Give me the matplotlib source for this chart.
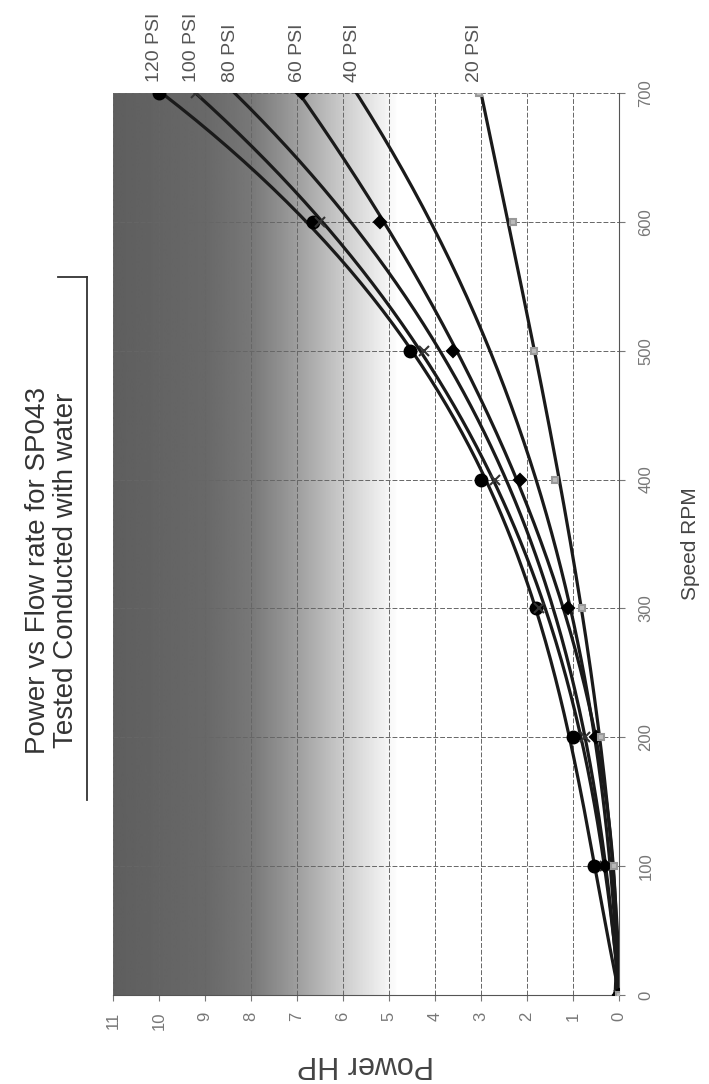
import numpy as np
import matplotlib
matplotlib.use("Agg")
import matplotlib.pyplot as plt
from matplotlib.lines import Line2D

plt.rcParams['font.family'] = ['Liberation Sans', 'DejaVu Sans']

# data: speed (RPM) vs power (HP) per pressure
rpm = [0, 100, 200, 300, 400, 500, 600, 700]
psi_120 = [0, 0.55, 1.0, 1.8, 3.0, 4.55, 6.65, 10.0]
psi_100 = [0, 0.3, 0.75, 1.75, 2.7, 4.25, 6.5, 9.2]
psi_80 = [0, 0.3, 0.7, 1.5, 2.4, 3.9, 5.85, 8.35]
psi_60 = [0, 0.3, 0.5, 1.1, 2.15, 3.6, 5.2, 6.9]
psi_40 = [0, 0.2, 0.55, 1.05, 1.75, 2.85, 4.1, 5.7]
psi_20 = [0, 0.1, 0.4, 0.8, 1.4, 1.85, 2.3, 3.05]

series = [
    ("120 PSI", psi_120, 'o', 'black', 'black', 8.5),
    ("100 PSI", psi_100, 'x', '#333333', '#333333', 7),
    ("80 PSI", psi_80, None, None, None, 0),
    ("60 PSI", psi_60, 'D', 'black', 'black', 6),
    ("40 PSI", psi_40, None, None, None, 0),
    ("20 PSI", psi_20, 's', '#bbbbbb', '#999999', 5),
]

power_ticks = list(range(0, 12))
rpm_ticks = [0, 100, 200, 300, 400, 500, 600, 700]

fig = plt.figure(figsize=(7.09, 10.84), dpi=100)
ax = fig.add_axes([113/709, 1 - 995/1084, 506/709, 902/1084])
ax.set_xlim(11, 0)
ax.set_ylim(0, 700)

# gray gradient of the plot area (dark at high power side)
p = np.linspace(0, 11, 300)
shade = np.interp(p, [0, 4.8, 5.2, 6, 7, 8, 9, 11],
                  [1, 1, 0.93, 0.8, 0.62, 0.47, 0.41, 0.37])
ax.imshow(np.tile(shade, (2, 1)), extent=[0, 11, 0, 700], aspect='auto',
          cmap='gray', vmin=0, vmax=1, zorder=0, interpolation='bilinear')

ax.set_xticks(power_ticks)
ax.set_yticks(rpm_ticks)
ax.grid(True, color='#666666', linestyle=(0, (5, 2)), linewidth=0.7, zorder=1)

# trend curves + markers
r_fine = np.linspace(0, 700, 200)
for name, vals, mk, mc, me, ms in series:
    coef = np.polyfit(rpm, vals, 3)
    ax.plot(np.polyval(coef, r_fine), r_fine, color='#1a1a1a', lw=2.3, zorder=3)
    if mk:
        ax.plot(vals, rpm, linestyle='none', marker=mk, color=mc, ms=ms,
                mec=me, mew=1.5, zorder=4)
    ax.annotate(name, (vals[-1], 700), xytext=(-3, 8), textcoords='offset points',
                rotation=90, ha='center', va='bottom', fontsize=14,
                color='#555555', annotation_clip=False)

for s in ['left', 'top']:
    ax.spines[s].set_visible(False)
ax.spines['right'].set_color('#555555')
ax.spines['bottom'].set_color('#555555')

ax.yaxis.tick_right()
ax.tick_params(axis='both', colors='#777777', labelsize=12, length=4, pad=8)
ax.tick_params(axis='y', pad=10)
for lab in ax.get_xticklabels():
    lab.set_rotation(90)
for lab in ax.get_yticklabels():
    lab.set_rotation(90)
    lab.set_va('center')

fig.text(366/709, 1 - 1064/1084, "Power HP", rotation=180, ha='center',
         va='center', fontsize=22, color='#444444')
fig.text(690/709, 1 - 544/1084, "Speed RPM", rotation=90, ha='center',
         va='center', fontsize=15, color='#444444')

fig.text(52/709, 1 - 570/1084, "Power vs Flow rate for SP043\nTested Conducted with water",
         rotation=90, ha='center', va='center', fontsize=20, color='#333333',
         linespacing=1.1)
# only the right and top edges of the title frame survive on the scan
fig.add_artist(Line2D([87/709, 87/709], [1 - 277/1084, 1 - 800/1084],
                      color='#333333', lw=1.3))
fig.add_artist(Line2D([58/709, 87/709], [1 - 277/1084, 1 - 277/1084],
                      color='#333333', lw=1.3))

fig.savefig("out.png", dpi=100)
